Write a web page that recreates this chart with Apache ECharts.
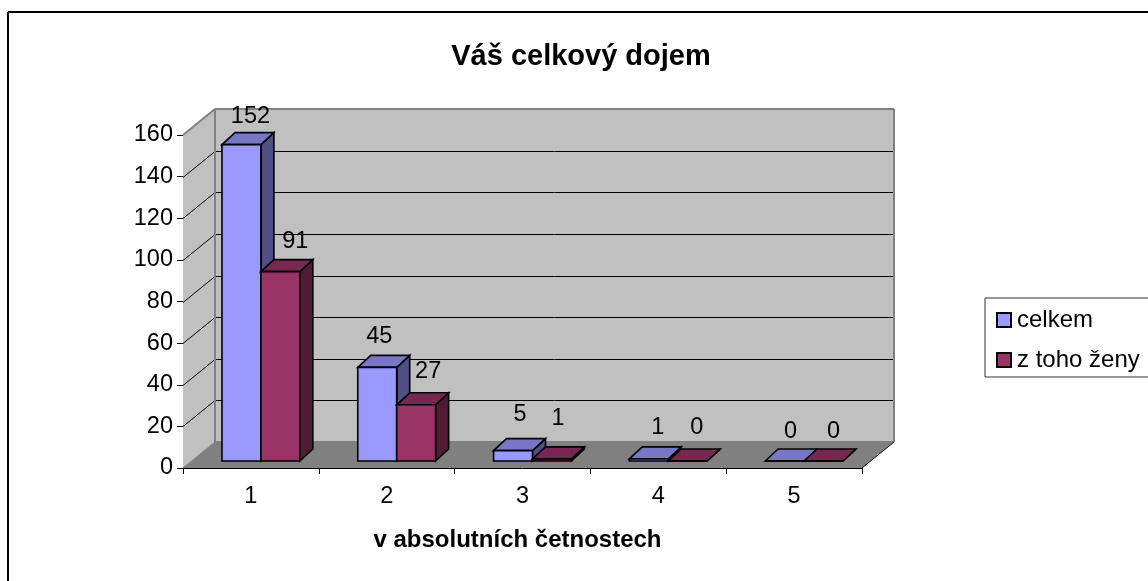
<!DOCTYPE html>
<html><head><meta charset="utf-8">
<style>html,body{margin:0;padding:0;background:#fff}#c{width:1148px;height:581px}</style>
<script src="https://cdn.jsdelivr.net/npm/echarts@6/dist/echarts.min.js"></script>
</head><body><div id="c"></div>
<script>
const categories = ['1','2','3','4','5'];
const celkem = [152,45,5,1,0];
const zeny = [91,27,1,0,0];
const gridTicks = [20,40,60,80,100,120,140,160];
const seriesNames = ['celkem','z toho ženy'];
const FONT = '"Liberation Sans", Arial, sans-serif';

const WALL = [32,-26], BAR_OFF = [10,-7], BAR_DEPTH = [13,-12];
const colors = [
  {front:'#9999FF', top:'#7777C6', side:'#4F4F85'},
  {front:'#993366', top:'#772850', side:'#4F1B35'}
];
const labelNudge = [
  [[9,-28],[2,-31],[7,-36],[9,-31],[6,-29]],
  [[15,-30],[12,-33],[6,-40],[9,-33],[10,-29]]
];

function poly(points, fill, stroke, lw){
  return {type:'polygon', shape:{points}, style:{fill, stroke:stroke||null, lineWidth:lw||0, lineJoin:'miter'}};
}
function line(a,b,stroke,lw){
  return {type:'line', shape:{x1:a[0],y1:a[1],x2:b[0],y2:b[1]}, style:{stroke, lineWidth:lw}};
}
function wallsRender(params, api){
  const r = params.coordSys, x0=r.x, x1=r.x+r.width, y0=r.y, y1=r.y+r.height, dx=WALL[0], dy=WALL[1];
  const ch = [
    poly([[x0,y1],[x0,y0],[x0+dx,y0+dy],[x0+dx,y1+dy]],'#C0C0C0'),
    poly([[x0+dx,y1+dy],[x0+dx,y0+dy],[x1+dx,y0+dy],[x1+dx,y1+dy]],'#C0C0C0'),
    poly([[x0,y1],[x0+dx,y1+dy],[x1+dx,y1+dy],[x1,y1]],'#808080')
  ];
  gridTicks.forEach(v=>{
    const y = Math.round(api.coord([0,v])[1])+.5;
    if(v<160){
      ch.push(line([x0,y],[x0+dx,y+dy],'#000',1));
      ch.push(line([x0+dx,y+dy],[x1+dx,y+dy],'#000',1));
    }
  });
  ch.push(line([x0,y0],[x0+dx,y0+dy],'#808080',2));
  ch.push(line([x0+dx,y0+dy],[x1+dx,y0+dy],'#808080',2));
  ch.push(line([x0+dx,y0+dy],[x0+dx,y1+dy],'#808080',2));
  ch.push(line([x1+dx,y0+dy],[x1+dx,y1+dy],'#808080',2));
  ch.push(line([x0+dx,y1+dy],[x1+dx,y1+dy],'#808080',2));
  ch.push(line([x1,y1],[x1+dx,y1+dy],'#000',1));
  ch.push(line([x0,y1],[x0+dx,y1+dy],'#808080',1));
  return {type:'group', silent:true, children:ch};
}
function barRender(si){
  return function(params, api){
    const i = api.value(0), v = api.value(1);
    const base = api.coord([i,0]), tip = api.coord([i,v]);
    const bw = api.size([1,0])[0]*0.2867;
    const c = colors[si];
    const xl = base[0]+BAR_OFF[0]-bw+si*bw, xr = xl+bw;
    const yb = base[1]+BAR_OFF[1], yt = tip[1]+BAR_OFF[1];
    const dx=BAR_DEPTH[0], dy=BAR_DEPTH[1];
    const lw=1.6;
    const n = labelNudge[si][i];
    return {type:'group', children:[
      poly([[xr,yb],[xr,yt],[xr+dx,yt+dy],[xr+dx,yb+dy]],c.side,'#000',lw),
      poly([[xl,yt],[xl+dx,yt+dy],[xr+dx,yt+dy],[xr,yt]],c.top,'#000',lw),
      poly([[xl,yb],[xl,yt],[xr,yt],[xr,yb]],c.front,'#000',lw),
      {type:'text', style:{text:String(v), x:(xl+xr)/2+n[0], y:yt+n[1],
        font:'23.5px '+FONT, fill:'#000', align:'center', verticalAlign:'middle'}}
    ]};
  };
}
const chart = echarts.init(document.getElementById('c'), null, {renderer:'canvas'});
chart.setOption({
  animation:false,
  backgroundColor:'#fff',
  title:{text:'Váš celkový dojem', left:576, top:37, textAlign:'center',
    textStyle:{fontFamily:FONT, fontSize:29, fontWeight:'bold', color:'#000'}},
  legend:{
    left:985, top:298, orient:'vertical', padding:[10,30,5,11], itemGap:16,
    itemWidth:14, itemHeight:14, borderColor:'#333', borderWidth:1,
    backgroundColor:'#fff', selectedMode:false,
    data:seriesNames.map((n,i)=>({name:n, icon:'rect', itemStyle:{color:colors[i].front, borderColor:'#000', borderWidth:2}})),
    textStyle:{fontFamily:FONT, fontSize:24, color:'#000', padding:[0,0,0,1]}
  },
  grid:{left:183, top:135, width:679, height:333, containLabel:false},
  xAxis:{type:'category', data:categories,
    axisLine:{lineStyle:{color:'#000',width:1}},
    axisTick:{show:true,length:6,alignWithLabel:false,lineStyle:{color:'#000'}},
    axisLabel:{fontFamily:FONT,fontSize:23.5,color:'#000',margin:17},
    name:'v absolutních četnostech', nameLocation:'middle', nameGap:60,
    nameTextStyle:{fontFamily:FONT,fontSize:24,fontWeight:'bold',color:'#000',padding:[0,10,0,0]}},
  yAxis:{type:'value', min:0, max:160, interval:20,
    axisLine:{show:true,lineStyle:{color:'#000',width:1}},
    axisTick:{show:true,length:6,lineStyle:{color:'#000'}},
    splitLine:{show:false},
    axisLabel:{fontFamily:FONT,fontSize:23.5,color:'#000',margin:10}},
  graphic:[
    {type:'line', z:0, shape:{x1:8,y1:12,x2:1148,y2:12}, style:{stroke:'#000',lineWidth:2}},
    {type:'line', z:0, shape:{x1:8,y1:12,x2:8,y2:581}, style:{stroke:'#000',lineWidth:2}}
  ],
  series:[
    {type:'custom', name:'walls', coordinateSystem:'cartesian2d', renderItem:wallsRender, data:[[0,0]], clip:false, silent:true, z:1, encode:{x:0,y:1}},
    {type:'custom', name:seriesNames[0], coordinateSystem:'cartesian2d', renderItem:barRender(0),
      data:celkem.map((v,i)=>[i,v]), clip:false, z:2, encode:{x:0,y:1}, itemStyle:{color:colors[0].front}},
    {type:'custom', name:seriesNames[1], coordinateSystem:'cartesian2d', renderItem:barRender(1),
      data:zeny.map((v,i)=>[i,v]), clip:false, z:3, encode:{x:0,y:1}, itemStyle:{color:colors[1].front}}
  ]
});
</script></body></html>
